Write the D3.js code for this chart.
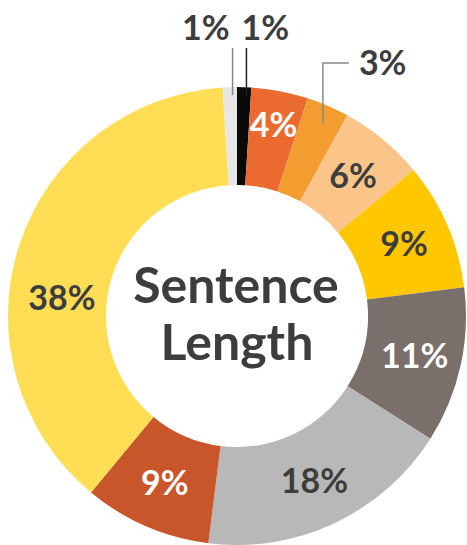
<!DOCTYPE html>
<html>
<head>
<meta charset="utf-8">
<script src="https://cdn.jsdelivr.net/npm/d3@7"></script>
<style>
  html, body { margin: 0; padding: 0; background: #fff; }
  svg { display: block; font-family: Lato, "Open Sans", sans-serif; }
</style>
</head>
<body>
<svg width="467" height="545"></svg>
<script>
// slices, clockwise from 12 o'clock
const categories = ["a", "b", "c", "d", "e", "f", "g", "h", "i", "j"];
const values = [1, 4, 3, 6, 9, 11, 18, 9, 38, 1];
const labels = ["1%", "4%", "3%", "6%", "9%", "11%", "18%", "9%", "38%", "1%"];
const colors = ["#0a0a0a", "#EA6A30", "#F39C2F", "#FBC589", "#FEC700",
                "#7B6F6B", "#B8B8B8", "#C9552A", "#FFDE55", "#E6E6E6"];
const labelColors = ["#3d3d3d", "#fff", "#3d3d3d", "#3d3d3d", "#3d3d3d",
                     "#fff", "#3d3d3d", "#fff", "#3d3d3d", "#3d3d3d"];

const cx = 237, cy = 316;
const outerR = 229, innerR = 131, labelR = 182;

const svg = d3.select("svg");
const g = svg.append("g").attr("transform", `translate(${cx},${cy})`);

const pie = d3.pie().sort(null).value((d) => d.value);
const arc = d3.arc().innerRadius(innerR).outerRadius(outerR);

const data = categories.map((c, i) => ({
  key: c, value: values[i], label: labels[i],
  color: colors[i], textColor: labelColors[i]
}));
const arcs = pie(data);

g.selectAll("path")
  .data(arcs)
  .enter()
  .append("path")
  .attr("d", arc)
  .attr("fill", (d) => d.data.color);

// small slices get a label outside with a leader line
const outside = { 0: "right", 2: "elbow", 9: "left" };
// a few inside labels were nudged by hand in the original
const labelAngleShift = { 8: -0.21 };
const labelRadius = { 1: 195, 8: 176 };

const midAngle = (d) => (d.startAngle + d.endAngle) / 2;

arcs.forEach((d, i) => {
  if (outside[i]) return;
  const a = midAngle(d) + (labelAngleShift[i] || 0);
  const r = labelRadius[i] || labelR;
  g.append("text")
    .attr("x", Math.sin(a) * r)
    .attr("y", -Math.cos(a) * r)
    .attr("text-anchor", "middle")
    .attr("dy", "0.36em")
    .attr("font-size", 34)
    .attr("font-weight", 700)
    .attr("fill", d.data.textColor)
    .text(d.data.label);
});

const topY = 48 - cy;
arcs.forEach((d, i) => {
  const kind = outside[i];
  if (!kind) return;
  const a = midAngle(d);
  const r0 = kind === "elbow" ? 210 : 221;
  const x = Math.sin(a) * r0 + 2.5;
  const y = -Math.cos(a) * r0;
  const lineColor = i === 0 ? "#222" : "#888";
  if (kind === "elbow") {
    const elbowY = 63 - cy;
    g.append("path")
      .attr("d", `M${x},${y}V${elbowY}H${x + 26}`)
      .attr("fill", "none")
      .attr("stroke", lineColor)
      .attr("stroke-width", 1.5);
    g.append("text")
      .attr("x", x + 36)
      .attr("y", elbowY)
      .attr("dy", "0.36em")
      .attr("font-size", 34)
      .attr("font-weight", 700)
      .attr("fill", d.data.textColor)
      .text(d.data.label);
  } else {
    g.append("line")
      .attr("x1", x).attr("y1", y)
      .attr("x2", x).attr("y2", topY)
      .attr("stroke", lineColor)
      .attr("stroke-width", 1.5);
    g.append("text")
      .attr("x", kind === "left" ? x - 3 : x - 5)
      .attr("y", 40 - cy)
      .attr("text-anchor", kind === "left" ? "end" : "start")
      .attr("font-size", 34)
      .attr("font-weight", 700)
      .attr("fill", d.data.textColor)
      .text(d.data.label);
  }
});

// centre title
const title = g.append("text")
  .attr("text-anchor", "middle")
  .attr("font-size", 50)
  .attr("font-weight", 700)
  .attr("fill", "#3d3d3d");
title.append("tspan").attr("x", -1).attr("y", 303 - cy).text("Sentence");
title.append("tspan").attr("x", 0).attr("y", 360 - cy).text("Length");
</script>
</body>
</html>
